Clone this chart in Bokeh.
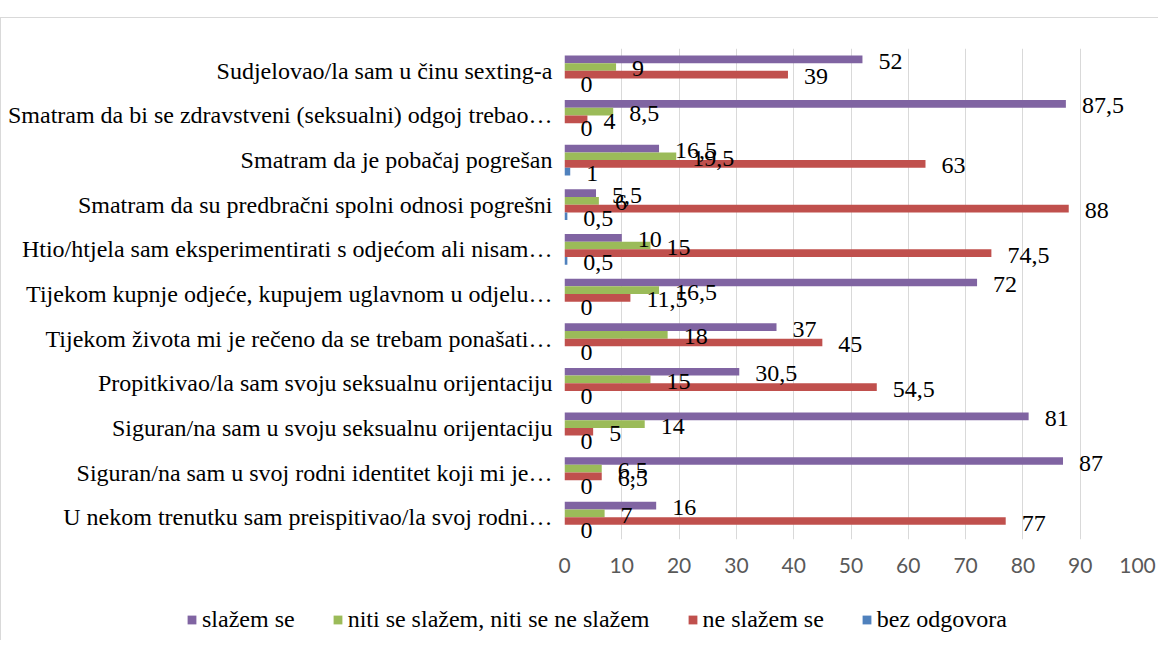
from bokeh.plotting import figure
from bokeh.models import (ColumnDataSource, FactorRange, Range1d, Legend, LegendItem,
                          FixedTicker, Div)
from bokeh.transform import dodge
from bokeh.core.properties import value
from bokeh.embed import file_html
from bokeh.resources import INLINE

categories = [
    "Sudjelovao/la sam u činu sexting-a",
    "Smatram da bi se zdravstveni (seksualni) odgoj trebao…",
    "Smatram da je pobačaj pogrešan",
    "Smatram da su predbračni spolni odnosi pogrešni",
    "Htio/htjela sam eksperimentirati s odjećom ali nisam…",
    "Tijekom kupnje odjeće, kupujem uglavnom u odjelu…",
    "Tijekom života mi je rečeno da se trebam ponašati…",
    "Propitkivao/la sam svoju seksualnu orijentaciju",
    "Siguran/na sam u svoju seksualnu orijentaciju",
    "Siguran/na sam u svoj rodni identitet koji mi je…",
    "U nekom trenutku sam preispitivao/la svoj rodni…",
]
slazem = [52, 87.5, 16.5, 5.5, 10, 72, 37, 30.5, 81, 87, 16]
niti = [9, 8.5, 19.5, 6, 15, 16.5, 18, 15, 14, 6.5, 7]
ne_slazem = [39, 4, 63, 88, 74.5, 11.5, 45, 54.5, 5, 6.5, 77]
bez = [0, 0, 1, 0.5, 0.5, 0, 0, 0, 0, 0, 0]

series_names = ["slažem se", "niti se slažem, niti se ne slažem", "ne slažem se", "bez odgovora"]
series_keys = ["s1", "s2", "s3", "s4"]
colors = ["#8064A2", "#9BBB59", "#C0504D", "#4F81BD"]
x_ticks = [0, 10, 20, 30, 40, 50, 60, 70, 80, 90, 100]


def fmt(v):
    return ("%g" % v).replace(".", ",")


data = {"cat": categories, "s1": slazem, "s2": niti, "s3": ne_slazem, "s4": bez}
for k in series_keys:
    data[k + "_lab"] = [fmt(v) for v in data[k]]
source = ColumnDataSource(data)

border_css = {"border-left": "1px solid #d9d9d9", "border-top": "1px solid #d9d9d9"}

p = figure(
    width=1158, height=575,
    y_range=FactorRange(factors=list(reversed(categories)), range_padding=0),
    x_range=Range1d(0, 100),
    output_backend="svg", toolbar_location=None,
    min_border_left=563, min_border_right=22, min_border_top=30, min_border_bottom=54,
    styles=border_css,
)
p.outline_line_color = None
p.background_fill_color = "white"
p.border_fill_color = "white"

bar_h = 0.172
offsets = [1.5 * bar_h, 0.5 * bar_h, -0.5 * bar_h, -1.5 * bar_h]

for key, col, off in zip(series_keys, colors, offsets):
    p.hbar(y=dodge("cat", off, range=p.y_range), left=0, right=key, height=bar_h,
           source=source, fill_color=col, line_color=None)

for key, off in zip(series_keys, offsets):
    p.text(x=key, y=dodge("cat", off, range=p.y_range), text=key + "_lab", source=source,
           x_offset=16, y_offset=2, text_align="left", text_baseline="middle",
           text_font=value("Times New Roman"), text_font_size="24px", text_color="black")

# axes
p.xaxis.ticker = FixedTicker(ticks=x_ticks)
p.xaxis.axis_line_color = None
p.xaxis.major_tick_line_color = None
p.xaxis.minor_tick_line_color = None
p.xaxis.major_label_text_font = "Lato"
p.xaxis.major_label_text_font_size = "21px"
p.xaxis.major_label_text_color = "#595959"
p.xaxis.major_label_standoff = 12

p.yaxis.axis_line_color = None
p.yaxis.major_tick_line_color = None
p.yaxis.minor_tick_line_color = None
p.yaxis.major_label_text_font = "Liberation Serif"
p.yaxis.major_label_text_font_size = "24px"
p.yaxis.major_label_text_color = "black"
p.yaxis.major_label_standoff = 6

p.xgrid.grid_line_color = "#d9d9d9"
p.xgrid.grid_line_width = 1
p.ygrid.grid_line_color = None

# legend strip (separate root, so it is not aligned with the chart frame)
lg = figure(width=1158, height=48, x_range=Range1d(0, 1), y_range=Range1d(0, 1),
            x_axis_type=None, y_axis_type=None, output_backend="svg",
            toolbar_location=None, min_border=0, min_border_left=0, min_border_right=0,
            min_border_top=0, min_border_bottom=0,
            styles={"border-left": "1px solid #d9d9d9"})
lg.outline_line_color = None
lg.grid.visible = False
items = []
for name, col in zip(series_names, colors):
    r = lg.hbar(y=[-5], left=[0], right=[0.1], height=0.1, fill_color=col, line_color=None)
    items.append(LegendItem(label=name, renderers=[r]))
legend = Legend(items=items, orientation="horizontal", location=(185, 7),
                glyph_width=11, glyph_height=11, label_standoff=5, spacing=37,
                padding=0, margin=0, border_line_color=None, background_fill_alpha=0,
                label_text_font="Liberation Serif", label_text_font_size="24px",
                label_text_color="black")
lg.add_layout(legend, "center")

top_gap = Div(text="", width=1158, height=7, styles={"height": "7px"})

open("out.html", "w").write(file_html([top_gap, p, lg], INLINE))
